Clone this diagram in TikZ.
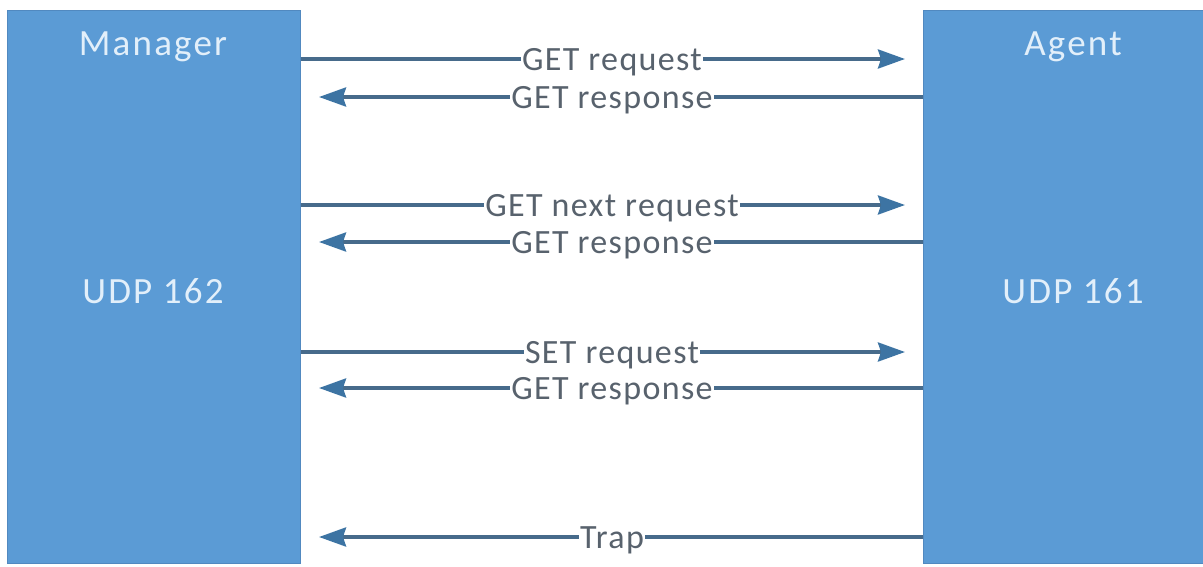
\documentclass[tikz,border=0pt]{standalone}
\usepackage{fontspec}
\setmainfont{Carlito}
\newfontfamily\boxfont{Carlito}[LetterSpace=6]
\newfontfamily\msgfont{Carlito}[LetterSpace=4]
\usetikzlibrary{arrows.meta}
\definecolor{boxblue}{HTML}{5B9BD5}
\definecolor{boxedge}{HTML}{5189C0}
\definecolor{boxtext}{HTML}{E2EFFA}
\definecolor{wire}{HTML}{476B8B}
\definecolor{tipblue}{HTML}{3D74A3}
\definecolor{msgtext}{HTML}{58626D}
\tikzset{
  x=1pt, y=-1pt,
  party/.style={draw=boxedge, line width=1pt, fill=boxblue, inner sep=0pt, anchor=north west},
  partytext/.style={text=boxtext, font=\boxfont\fontsize{37}{40}\selectfont, anchor=base},
  msg/.style={draw=wire, line width=3.5pt,
    -{Stealth[length=27pt, width=19pt, inset=3pt, color=tipblue]}, shorten >=18pt},
  msglabel/.style={fill=white, inner xsep=1pt, inner ysep=0pt, text=msgtext,
    font=\msgfont\fontsize{34}{38}\selectfont, anchor=base, yshift=-11pt}
}
\begin{document}
\begin{tikzpicture}
  \useasboundingbox (0,0) rectangle (1203,566);
  \clip (0,0) rectangle (1203,566);

  % the two parties
  \node[party, minimum width=293pt, minimum height=553pt] (mgr) at (7,10) {};
  \node[party, minimum width=300pt, minimum height=553pt] (agt) at (923,10) {};

  \node[partytext] (mgrname) at (153,55) {Manager};
  \node[partytext] (mgrport) at (153,303) {UDP 162};
  \node[partytext] (agtname) at (1073,55) {Agent};
  \node[partytext] (agtport) at (1073,303) {UDP 161};

  % message rows
  \coordinate (r1) at (0,59);
  \coordinate (r2) at (0,97);
  \coordinate (r3) at (0,205);
  \coordinate (r4) at (0,242);
  \coordinate (r5) at (0,352);
  \coordinate (r6) at (0,388);
  \coordinate (r7) at (0,537);

  \draw[msg] (mgr.east |- r1) -- node[msglabel] {GET request} (agt.west |- r1);
  \draw[msg] (agt.west |- r2) -- node[msglabel] {GET response} (mgr.east |- r2);
  \draw[msg] (mgr.east |- r3) -- node[msglabel] {GET next request} (agt.west |- r3);
  \draw[msg] (agt.west |- r4) -- node[msglabel] {GET response} (mgr.east |- r4);
  \draw[msg] (mgr.east |- r5) -- node[msglabel] {SET request} (agt.west |- r5);
  \draw[msg] (agt.west |- r6) -- node[msglabel] {GET response} (mgr.east |- r6);
  \draw[msg] (agt.west |- r7) -- node[msglabel] {Trap} (mgr.east |- r7);
\end{tikzpicture}
\end{document}
